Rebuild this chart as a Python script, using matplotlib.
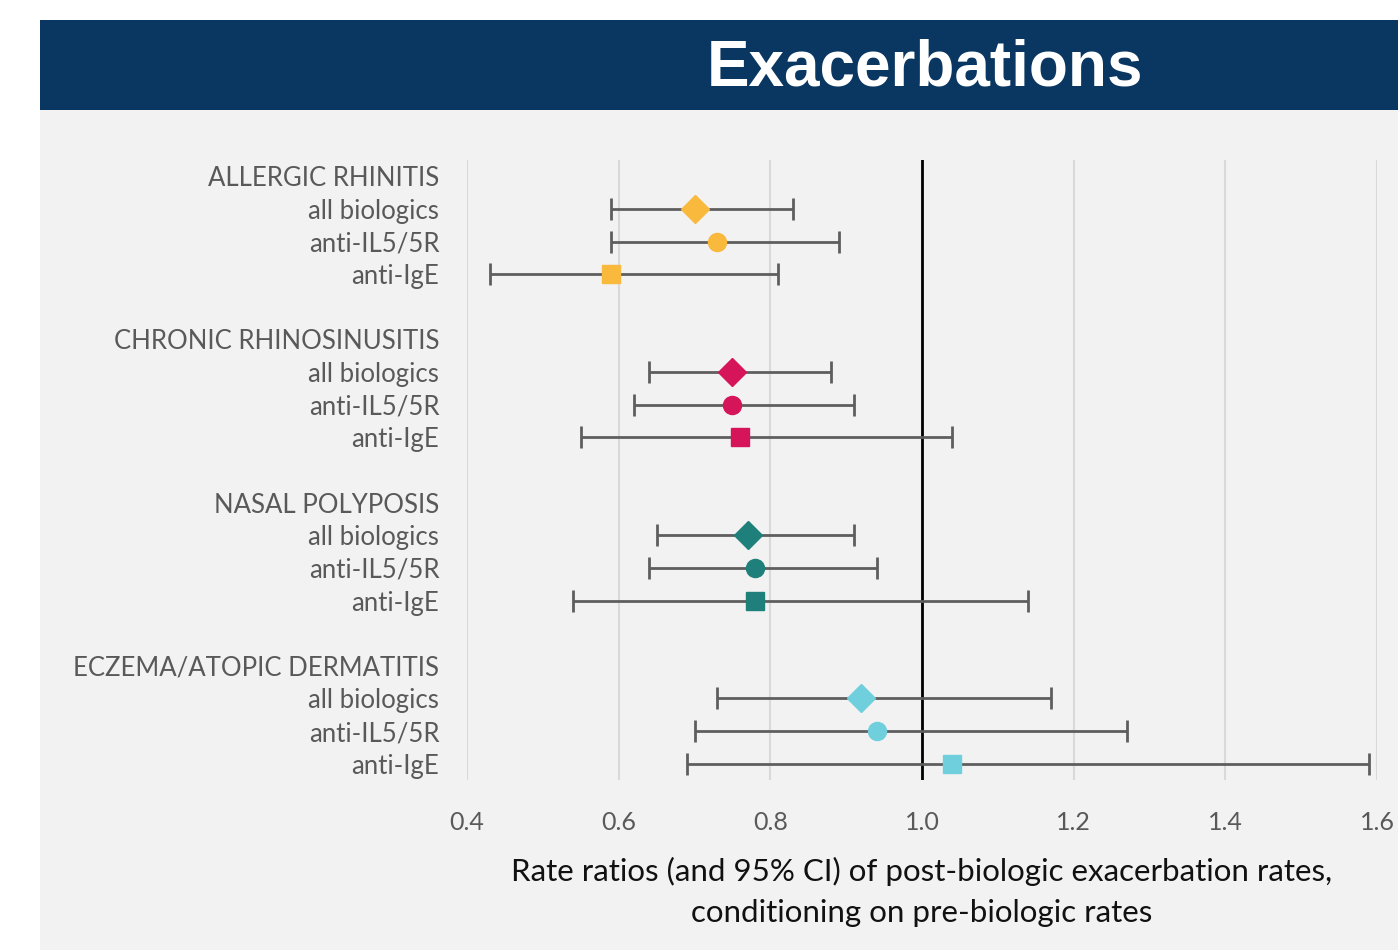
import numpy as np
import matplotlib.pyplot as plt
from matplotlib.patches import Rectangle

# данні
groups = ["ALLERGIC RHINITIS", "CHRONIC RHINOSINUSITIS", "NASAL POLYPOSIS", "ECZEMA/ATOPIC DERMATITIS"]
subgroups = ["all biologics", "anti-IL5/5R", "anti-IgE"]
group_colors = ["#F9B93C", "#D5145A", "#1F7F7A", "#70CFDD"]
sub_markers = ["D", "o", "s"]

rr_est = [[0.70, 0.73, 0.59],
          [0.75, 0.75, 0.76],
          [0.77, 0.78, 0.78],
          [0.92, 0.94, 1.04]]
ci_low = [[0.59, 0.59, 0.43],
          [0.64, 0.62, 0.55],
          [0.65, 0.64, 0.54],
          [0.73, 0.70, 0.69]]
ci_high = [[0.83, 0.89, 0.81],
           [0.88, 0.91, 1.04],
           [0.91, 0.94, 1.14],
           [1.17, 1.27, 1.59]]

x_ticks = [0.4, 0.6, 0.8, 1.0, 1.2, 1.4, 1.6]

fig = plt.figure(figsize=(13.98, 9.5), dpi=100)
fig.patch.set_facecolor("white")
plt.rcParams["font.family"] = ["Lato", "DejaVu Sans"]

# сіра панель та темна смуга заголовка
fig.patches.append(Rectangle((40 / 1398, 0), 1 - 40 / 1398, 1 - 110 / 950,
                             transform=fig.transFigure, facecolor="#F2F2F2", edgecolor="none", zorder=0))
fig.patches.append(Rectangle((40 / 1398, 1 - 110 / 950), 1 - 40 / 1398, 90 / 950,
                             transform=fig.transFigure, facecolor="#0A3761", edgecolor="none", zorder=0))
fig.text(925 / 1398, 1 - 68 / 950, "Exacerbations", color="white", fontsize=46, fontweight="bold",
         family="Liberation Sans", ha="center", va="center")

ax = fig.add_axes([467 / 1398, 1 - 780 / 950, (1377 - 467) / 1398, (780 - 160) / 950])
ax.set_zorder(2)
ax.set_facecolor("#F2F2F2")

labels = []
row = 0
for g in range(len(groups)):
    labels.append((row, groups[g]))
    row += 1
    for s in range(len(subgroups)):
        est = rr_est[g][s]
        ax.errorbar(est, row, xerr=[[est - ci_low[g][s]], [ci_high[g][s] - est]],
                    fmt="none", ecolor="#5E5E5E", elinewidth=2, capsize=8, capthick=2, zorder=3)
        ms = 14 if sub_markers[s] == "D" else 13
        ax.plot(est, row, marker=sub_markers[s], color=group_colors[g], markersize=ms,
                linestyle="none", zorder=4)
        labels.append((row, subgroups[s]))
        row += 1
    row += 1  # порожній рядок між групами

ax.axvline(1.0, color="black", linewidth=2, zorder=2)
ax.set_xlim(0.4, 1.6)
ax.set_ylim(row - 1 - 0.5, -0.5)
ax.set_xticks(x_ticks)
ax.set_xticklabels([f"{t:.1f}" for t in x_ticks])
ax.set_yticks([r for r, _ in labels])
ax.set_yticklabels([t for _, t in labels])
ax.grid(axis="x", color="#D9D9D9", linewidth=1.5, zorder=1)
ax.set_axisbelow(True)
for sp in ax.spines.values():
    sp.set_visible(False)
ax.tick_params(axis="both", length=0, labelcolor="#595959")
ax.tick_params(axis="x", pad=22, labelsize=18)
ax.tick_params(axis="y", pad=20, labelsize=18.5)

ax.set_xlabel("Rate ratios (and 95% CI) of post-biologic exacerbation rates,\nconditioning on pre-biologic rates",
              fontsize=22.5, color="#111111", labelpad=17, linespacing=1.55)

fig.savefig("out.png", dpi=100, facecolor=fig.get_facecolor())
